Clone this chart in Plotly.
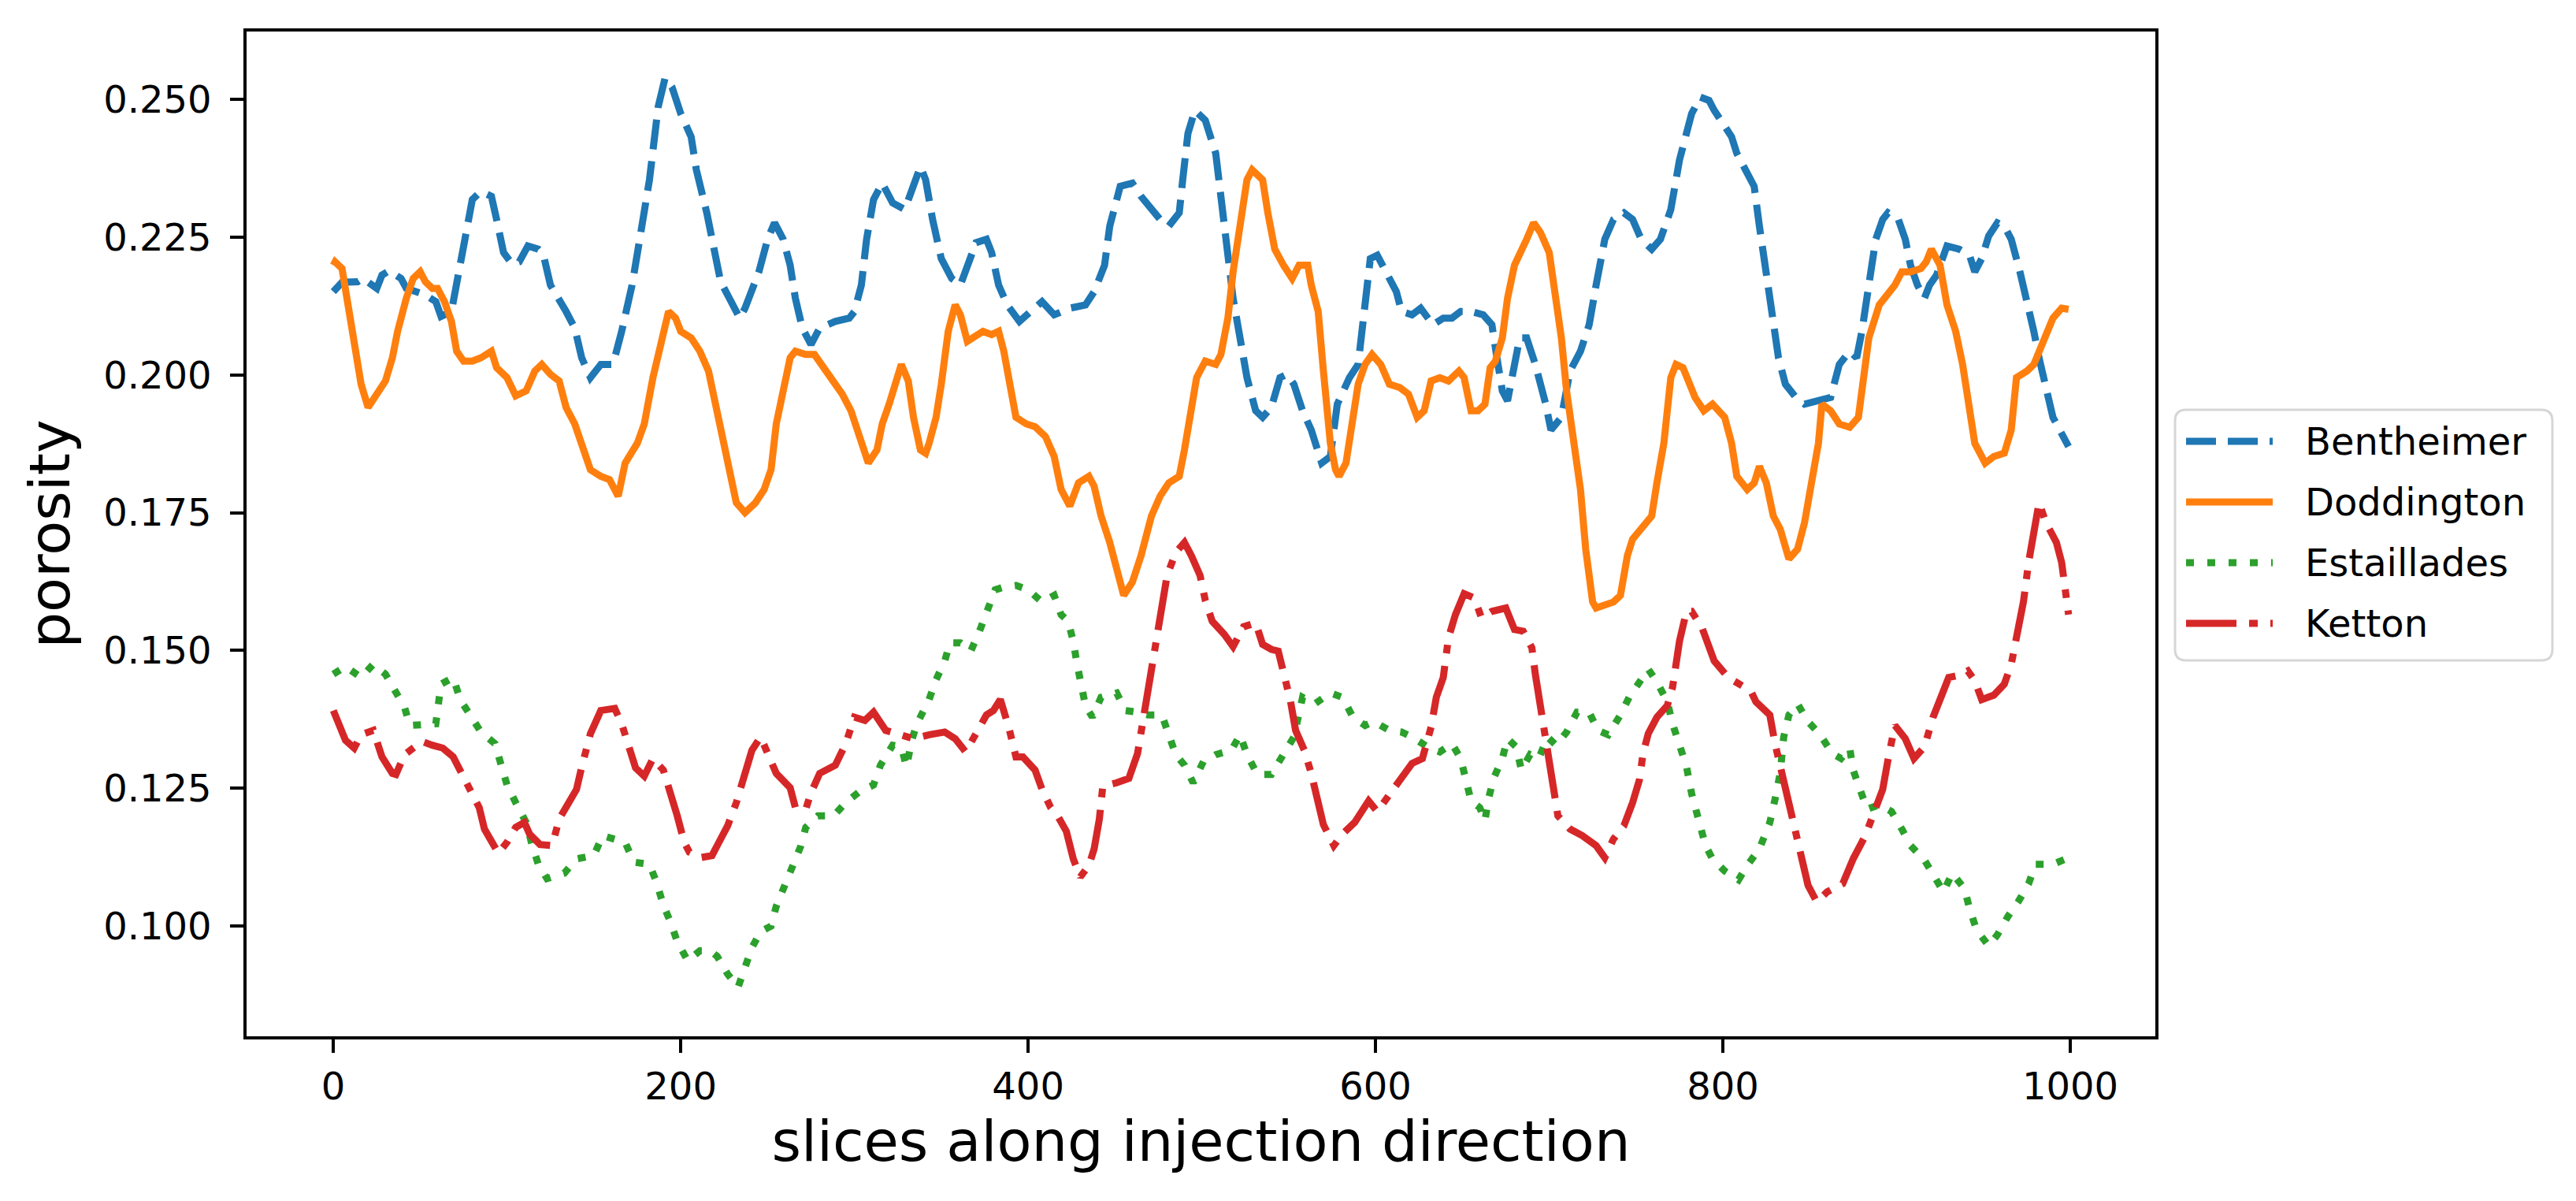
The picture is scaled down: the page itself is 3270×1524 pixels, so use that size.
import plotly.graph_objects as go

# ---------------- data ----------------
series_names = ["Bentheimer", "Doddington", "Estaillades", "Ketton"]

bentheimer = [(0,0.2151),(5,0.2168),(14,0.2169),(17,0.2175),(25,0.2157),(28,0.2181),(32,0.2189),(39,0.2175),(42,0.2157),(53,0.2145),(59,0.2133),(62,0.2106),(68,0.2115),(71,0.2163),(77,0.2258),(80,0.2318),(85,0.2333),(91,0.2324),(94,0.2282),(98,0.2222),(103,0.2201),(107,0.2205),(112,0.2234),(118,0.2228),(121,0.2217),(125,0.2163),(134,0.2115),(139,0.2085),(143,0.2031),(148,0.1995),(154,0.2019),(161,0.2019),(166,0.2079),(172,0.2163),(177,0.2258),(182,0.2354),(187,0.2486),(191,0.2539),(195,0.2522),(200,0.2474),(206,0.2432),(209,0.2372),(215,0.2294),(220,0.2217),
(223,0.2169),(228,0.2139),(234,0.2103),(237,0.2121),(245,0.2187),(250,0.2246),(254,0.2276),(259,0.2246),(263,0.2199),(266,0.2139),(270,0.2085),(275,0.2055),(280,0.2085),(289,0.2097),(297,0.2103),(300,0.2115),(304,0.2163),(307,0.2246),(311,0.2318),(316,0.2348),(322,0.2312),(329,0.2300),(334,0.2342),(338,0.2378),(341,0.2354),(345,0.2282),(350,0.2211),(356,0.2175),(361,0.2163),(365,0.2199),(370,0.2240),(376,0.2246),(379,0.2222),(383,0.2163),(388,0.2127),(395,0.2097),(401,0.2115),(408,0.2133),(415,0.2109),(424,0.2121),(433,0.2127),(438,0.2151),(444,0.2199),(447,0.2270),(453,0.2342),(460,0.2348),(465,0.2324),(471,0.2300),(476,0.2282),(481,0.2270),(487,0.2294),(489,0.2354),(492,0.2438),(496,0.2480),
(502,0.2462),(508,0.2402),(511,0.2318),(515,0.2222),(518,0.2139),(522,0.2067),(526,0.1995),(531,0.1935),(535,0.1923),(540,0.1941),(545,0.1995),(549,0.2001),(553,0.1983),(558,0.1935),(563,0.1900),(569,0.1840),(574,0.1852),(578,0.1947),(585,0.1995),(590,0.2019),(594,0.2139),(597,0.2211),(601,0.2217),(606,0.2187),(612,0.2151),(615,0.2115),(621,0.2109),(626,0.2121),(633,0.2091),(639,0.2103),(644,0.2103),(649,0.2115),(655,0.2115),(662,0.2109),(667,0.2091),(669,0.2049),(673,0.1971),(676,0.1953),(680,0.2019),(683,0.2067),(687,0.2067),(692,0.2019),(698,0.1947),(701,0.1900),(707,0.1923),(712,0.2007),(718,0.2043),(723,0.2091),(727,0.2163),(732,0.2246),(737,0.2282),(743,0.2294),(748,0.2282),(753,0.2246),(759,0.2228),(764,0.2246),(770,0.2300),
(775,0.2390),(779,0.2438),(782,0.2474),(787,0.2504),(792,0.2498),(795,0.2480),(799,0.2462),(805,0.2432),(808,0.2402),(814,0.2366),(818,0.2342),(821,0.2270),(825,0.2187),(829,0.2103),(832,0.2031),(836,0.1983),(842,0.1959),(847,0.1947),(855,0.1953),(862,0.1959),(867,0.2019),(873,0.2043),(877,0.2031),(880,0.2079),(884,0.2163),(888,0.2246),(892,0.2282),(895,0.2294),(901,0.2282),(905,0.2246),(908,0.2199),(912,0.2163),(916,0.2139),(919,0.2163),(923,0.2181),(929,0.2234),(936,0.2228),(942,0.2217),(945,0.2187),(949,0.2211),(953,0.2252),(958,0.2276),(962,0.2270),(966,0.2246),(971,0.2187),(975,0.2139),(979,0.2079),(982,0.2031),(986,0.1971),(990,0.1923),(999,0.1870)]

doddington = [(0,0.2199),(1,0.2205),(5,0.2193),(8,0.2139),(12,0.2067),(16,0.1983),(20,0.1941),(25,0.1965),(30,0.1989),(34,0.2031),(37,0.2079),(42,0.2139),(46,0.2175),(50,0.2187),(53,0.2169),(57,0.2157),(60,0.2157),(64,0.2133),(68,0.2097),(71,0.2043),(75,0.2025),(80,0.2025),(85,0.2031),(91,0.2043),(94,0.2013),(100,0.1995),(105,0.1962),(111,0.1971),(116,0.2007),(120,0.2019),(125,0.2001),(130,0.1989),(134,0.1941),(139,0.1911),(143,0.1876),(148,0.1828),(154,0.1816),(159,0.1810),(164,0.1780),(168,0.1840),(175,0.1876),(179,0.1911),(184,0.1995),(190,0.2067),(193,0.2115),(197,0.2103),(200,0.2079),(206,0.2067),(211,0.2043),(216,0.2007),(220,0.1947),(225,0.1875),
(228,0.1816),(232,0.1768),(237,0.1750),(243,0.1768),(248,0.1792),(252,0.1828),(255,0.1911),(259,0.1971),(263,0.2031),(266,0.2043),(272,0.2037),(277,0.2037),(282,0.2013),(288,0.1989),(293,0.1965),(298,0.1935),(302,0.1900),(306,0.1858),(308,0.1840),(313,0.1864),(316,0.1911),(320,0.1947),(324,0.1983),(327,0.2019),(331,0.1989),(334,0.1923),(338,0.1864),(341,0.1858),(343,0.1876),(347,0.1923),(350,0.1983),(354,0.2079),(358,0.2127),(361,0.2109),(365,0.2061),(368,0.2067),(374,0.2079),(379,0.2073),(383,0.2079),(386,0.2043),(390,0.1983),(393,0.1923),(399,0.1911),(404,0.1906),(410,0.1888),(415,0.1852),(419,0.1792),(424,0.1762),(429,0.1804),(435,0.1816),(438,0.1798),(442,0.1744),(447,0.1696),(451,0.1648),(455,0.1600),(460,0.1624),(465,0.1672),(471,0.1744),(476,0.1780),(481,0.1804),(487,0.1816),(490,0.1864),(494,0.1947),(497,0.1995),
(502,0.2025),(508,0.2019),(511,0.2037),(515,0.2103),(518,0.2187),(522,0.2282),(526,0.2354),(529,0.2372),(535,0.2354),(538,0.2294),(542,0.2228),(547,0.2199),(552,0.2175),(556,0.2199),(561,0.2199),(563,0.2163),(567,0.2115),(570,0.2007),(574,0.1876),(577,0.1828),(579,0.1816),(583,0.1840),(587,0.1923),(590,0.1983),(594,0.2019),(598,0.2037),(603,0.2019),(608,0.1983),(614,0.1977),(619,0.1965),(624,0.1923),(628,0.1935),(632,0.1989),(637,0.1995),(642,0.1989),(648,0.2007),(651,0.1995),(655,0.1935),(659,0.1935),(663,0.1947),(666,0.2013),(669,0.2025),(673,0.2067),(676,0.2139),(680,0.2199),(683,0.2217),(687,0.2246),(691,0.2276),(695,0.2258),(700,0.2222),(703,0.2151),(707,0.2067),(710,0.1971),(714,0.1876),(718,0.1792),(721,0.1684),(725,0.1588),(727,0.1577),(732,0.1582),(737,0.1588),(741,0.1600),(745,0.1672),(748,0.1702),(753,0.1720),(759,0.1744),(762,0.1804),(766,0.1876),(770,0.1995),
(773,0.2019),(777,0.2013),(780,0.1989),(784,0.1959),(789,0.1935),(794,0.1947),(801,0.1923),(805,0.1876),(808,0.1816),(814,0.1792),(818,0.1804),(821,0.1834),(825,0.1804),(829,0.1744),(833,0.1720),(838,0.1666),(843,0.1684),(847,0.1732),(851,0.1804),(855,0.1876),(857,0.1947),(862,0.1935),(867,0.1911),(873,0.1905),(878,0.1923),(880,0.1971),(884,0.2067),(890,0.2127),(895,0.2145),(899,0.2163),(903,0.2187),(908,0.2187),(914,0.2193),(917,0.2205),(920,0.2228),(925,0.2199),(929,0.2127),(934,0.2079),(938,0.2019),(942,0.1947),(945,0.1876),(951,0.1840),(956,0.1852),(962,0.1858),(966,0.1900),(969,0.1995),(975,0.2007),(979,0.2019),(984,0.2055),(990,0.2103),(995,0.2121),(999,0.2119)]

estaillades = [(0,0.1457),(7,0.1471),(16,0.1451),(23,0.1475),(30,0.1457),(35,0.1427),(41,0.1397),(44,0.1364),(53,0.1364),(59,0.1367),(62,0.1439),(69,0.1451),(73,0.1411),(79,0.1383),(85,0.1352),(93,0.1331),(97,0.1292),(100,0.1256),(105,0.1224),(111,0.1188),(114,0.1152),(118,0.1112),(123,0.1086),(133,0.1096),(140,0.1122),(150,0.1128),(155,0.1164),(163,0.1158),(168,0.1152),(173,0.1116),(182,0.1112),(186,0.1080),(190,0.1038),(194,0.1008),(198,0.0972),(204,0.0937),(211,0.0955),(217,0.0955),(221,0.0945),(227,0.0913),(233,0.0889),(237,0.0925),(241,0.0961),(246,0.0990),(252,0.1000),(255,0.1036),(260,0.1072),(264,0.1104),(269,0.1144),(272,0.1179),(279,0.1200),(288,0.1200),(295,0.1224),(303,0.1244),(311,0.1256),(315,0.1292),(322,0.1328),(327,0.1325),(330,0.1289),(333,0.1337),(336,0.1367),(343,0.1411),(347,0.1447),(352,0.1481),(355,0.1514),(361,0.1514),(367,0.1499),(372,0.1535),(376,0.1571),(381,0.1610),(386,0.1615),(393,0.1618),(400,0.1610),(408,0.1588),(415,0.1600),(419,0.1565),(423,0.1553),(426,0.1517),(428,0.1478),(430,0.1439),(433,0.1400),(437,0.1379),(442,0.1415),(451,0.1423),(456,0.1391),(463,0.1388),(469,0.1383),(477,0.1383),(481,0.1349),(485,0.1311),(490,0.1292),(495,0.1260),
(501,0.1299),(508,0.1311),(517,0.1319),(522,0.1347),(526,0.1311),(532,0.1275),(540,0.1275),(547,0.1311),(553,0.1343),(558,0.1415),(565,0.1403),(574,0.1423),(581,0.1415),(587,0.1379),(594,0.1364),(599,0.1371),(608,0.1355),(615,0.1352),(621,0.1343),(630,0.1325),(637,0.1316),(644,0.1331),(649,0.1304),(652,0.1266),(655,0.1227),(660,0.1215),(663,0.1191),(665,0.1230),(668,0.1268),(673,0.1304),(676,0.1340),(681,0.1325),(684,0.1283),(689,0.1311),(694,0.1304),(699,0.1343),(704,0.1328),(710,0.1352),(716,0.1388),(723,0.1388),(728,0.1355),(734,0.1347),(741,0.1383),(746,0.1415),(752,0.1445),(757,0.1466),(762,0.1443),(768,0.1407),(771,0.1367),(775,0.1331),(779,0.1290),(782,0.1240),(786,0.1190),(790,0.1146),(794,0.1122),(801,0.1100),(809,0.1084),(814,0.1110),(821,0.1140),(827,0.1188),(830,0.1230),(833,0.1278),(835,0.1343),(838,0.1383),(843,0.1403),(849,0.1371),(856,0.1347),(863,0.1313),(868,0.1304),(873,0.1323),(875,0.1283),(879,0.1248),(883,0.1212),(890,0.1220),(897,0.1208),(903,0.1176),(908,0.1146),(916,0.1120),(921,0.1092),(927,0.1062),(932,0.1096),(939,0.1068),(942,0.1032),(946,0.0993),(953,0.0964),(958,0.0984),(964,0.1017),(970,0.1044),(976,0.1077),(980,0.1112),(990,0.1112),(999,0.1124)]

ketton = [(0,0.1391),(3,0.1367),(7,0.1337),(12,0.1323),(16,0.1347),(23,0.1355),(28,0.1307),(34,0.1277),(36,0.1275),(41,0.1311),(46,0.1325),(51,0.1335),(57,0.1328),(63,0.1323),(69,0.1307),(75,0.1272),(80,0.1244),(84,0.1215),(87,0.1176),(91,0.1152),(95,0.1132),(100,0.1152),(105,0.1179),(110,0.1188),(113,0.1167),(119,0.1148),(126,0.1146),(130,0.1194),(134,0.1218),(140,0.1248),(143,0.1289),(148,0.1349),(154,0.1391),(162,0.1395),(166,0.1367),(171,0.1319),(174,0.1287),(179,0.1272),(184,0.1304),(190,0.1283),(193,0.1254),(198,0.1200),(202,0.1152),(205,0.1134),(211,0.1124),(218,0.1128),(221,0.1146),(227,0.1182),(232,0.1224),(236,0.1266),(241,0.1319),(246,0.1343),(250,0.1311),(255,0.1277),(263,0.1251),(266,0.1215),(272,0.1212),(275,0.1242),(280,0.1277),(289,0.1292),(295,0.1331),(300,0.1379),(306,0.1373),(311,0.1388),(318,0.1355),(325,0.1347),(334,0.1340),(343,0.1347),(352,0.1352),(358,0.1340),(364,0.1316),(370,0.1349),(376,0.1383),(380,0.1391),(384,0.1411),(389,0.1359),(393,0.1307),(397,0.1307),(404,0.1283),(408,0.1248),(413,0.1215),(417,0.1200),(422,0.1172),(426,0.1122),(430,0.1089),(435,0.1110),(438,0.1140),(441,0.1194),(443,0.1254),(451,0.1260),(458,0.1268),(463,0.1313),(466,0.1373),(469,0.1421),(472,0.1493),(476,0.1571),(480,0.1636),(485,0.1678),(490,0.1696),(494,0.1672),(499,0.1636),
(502,0.1591),(506,0.1553),(513,0.1529),(518,0.1507),(524,0.1543),(531,0.1550),(535,0.1511),(540,0.1502),(544,0.1499),(547,0.1463),(551,0.1409),(554,0.1355),(559,0.1319),(563,0.1277),(567,0.1230),(570,0.1184),(576,0.1146),(581,0.1167),(588,0.1188),(596,0.1227),(601,0.1208),(606,0.1230),(614,0.1268),(621,0.1295),(627,0.1304),(632,0.1361),(635,0.1415),(639,0.1451),(642,0.1523),(646,0.1565),(651,0.1603),(657,0.1595),(661,0.1559),(667,0.1571),(675,0.1577),(680,0.1538),(685,0.1535),(690,0.1505),(692,0.1457),(695,0.1397),(699,0.1325),(702,0.1266),(705,0.1200),(712,0.1176),(719,0.1164),(727,0.1146),(732,0.1124),(737,0.1158),(743,0.1182),(748,0.1224),(752,0.1266),(754,0.1313),(757,0.1349),(762,0.1379),(768,0.1400),(771,0.1433),(775,0.1517),(779,0.1571),(782,0.1571),(788,0.1541),(792,0.1505),(795,0.1481),(803,0.1451),(810,0.1439),(816,0.1427),(819,0.1407),(827,0.1383),(830,0.1331),(834,0.1277),(838,0.1230),(842,0.1182),(845,0.1128),(849,0.1074),(854,0.1044),(860,0.1062),(869,0.1077),(875,0.1122),(882,0.1164),(888,0.1212),(892,0.1248),(895,0.1301),(899,0.1364),(905,0.1340),(910,0.1304),(916,0.1325),(921,0.1379),(927,0.1427),(930,0.1451),(936,0.1455),(941,0.1463),(945,0.1445),(949,0.1411),(956,0.1419),(962,0.1439),(966,0.1475),(969,0.1523),(973,0.1588),(976,0.1660),(980,0.1738),(982,0.1768),(986,0.1732),(992,0.1696),(995,0.1660),(997,0.1612),(999,0.1565)]

x_tick_values = [0, 200, 400, 600, 800, 1000]
y_tick_values = [0.100, 0.125, 0.150, 0.175, 0.200, 0.225, 0.250]
y_tick_labels = ["0.100", "0.125", "0.150", "0.175", "0.200", "0.225", "0.250"]
x_title = "slices along injection direction"
y_title = "porosity"

# ---------------- style ----------------
FONT = "DejaVu Sans"
W, H = 3270, 1524
ML, MR, MT, MB = 305, 542, 32, 217
PW, PH = W - ML - MR, H - MT - MB

colors = ["#1f77b4", "#ff7f0e", "#2ca02c", "#d62728"]
dashes = ["38px,15px", "solid", "10px,17px", "64px,16px,11px,16px"]
LW = 9

fig = go.Figure()
for name, pts, col, dsh in zip(series_names, [bentheimer, doddington, estaillades, ketton], colors, dashes):
    fig.add_trace(go.Scatter(
        x=[p[0] for p in pts], y=[p[1] for p in pts], mode="lines", name=name,
        line=dict(color=col, width=LW, dash=dsh), showlegend=False))

def px_x(px):
    return (px - ML) / PW

def px_y(py):
    return (H - MB - py) / PH

# matplotlib-like legend box (right of plot, vertically centred)
bx0, bx1, by0, by1 = px_x(2753), px_x(3232), px_y(830), px_y(512)
rx, ry = 14 / PW, 14 / PH
box_path = (f"M {bx0+rx},{by0} L {bx1-rx},{by0} Q {bx1},{by0} {bx1},{by0+ry} "
            f"L {bx1},{by1-ry} Q {bx1},{by1} {bx1-rx},{by1} L {bx0+rx},{by1} "
            f"Q {bx0},{by1} {bx0},{by1-ry} L {bx0},{by0+ry} Q {bx0},{by0} {bx0+rx},{by0} Z")
shapes = [dict(type="path", xref="paper", yref="paper", path=box_path,
               line=dict(color="#d6d6d6", width=3), fillcolor="rgba(255,255,255,0.8)", layer="above")]
annotations = []
row_px = [552, 629, 706, 783]
for name, col, dsh, rpy in zip(series_names, colors, dashes, row_px):
    yy = px_y(rpy)
    shapes.append(dict(type="line", xref="paper", yref="paper", x0=px_x(2767), x1=px_x(2877),
                       y0=yy, y1=yy, line=dict(color=col, width=LW, dash=dsh), layer="above"))
    annotations.append(dict(xref="paper", yref="paper", x=px_x(2916), y=yy, text=name,
                            showarrow=False, xanchor="left", yanchor="middle",
                            font=dict(family=FONT, size=48, color="black")))

axis_common = dict(showline=True, mirror=True, linecolor="black", linewidth=3.5,
                   ticks="outside", ticklen=17, tickwidth=3.5, tickcolor="black",
                   showgrid=False, zeroline=False, automargin=False,
                   tickfont=dict(family=FONT, size=48, color="black"))

fig.update_layout(
    template="none",
    width=W, height=H,
    margin=dict(l=ML, r=MR, t=MT, b=MB, pad=0),
    paper_bgcolor="white", plot_bgcolor="white",
    font=dict(family=FONT, color="black"),
    xaxis=dict(range=[-49.95, 1048.95], tickmode="array", tickvals=x_tick_values,
               ticklabelstandoff=2,
               title=dict(text=x_title, font=dict(family=FONT, size=72, color="black"), standoff=14),
               **axis_common),
    yaxis=dict(range=[0.0800, 0.2623], tickmode="array", tickvals=y_tick_values, ticktext=y_tick_labels,
               ticklabelstandoff=14,
               title=dict(text=y_title, font=dict(family=FONT, size=72, color="black"), standoff=20),
               **axis_common),
    shapes=shapes,
    annotations=annotations,
    showlegend=False,
)

fig.write_html("out.html")
